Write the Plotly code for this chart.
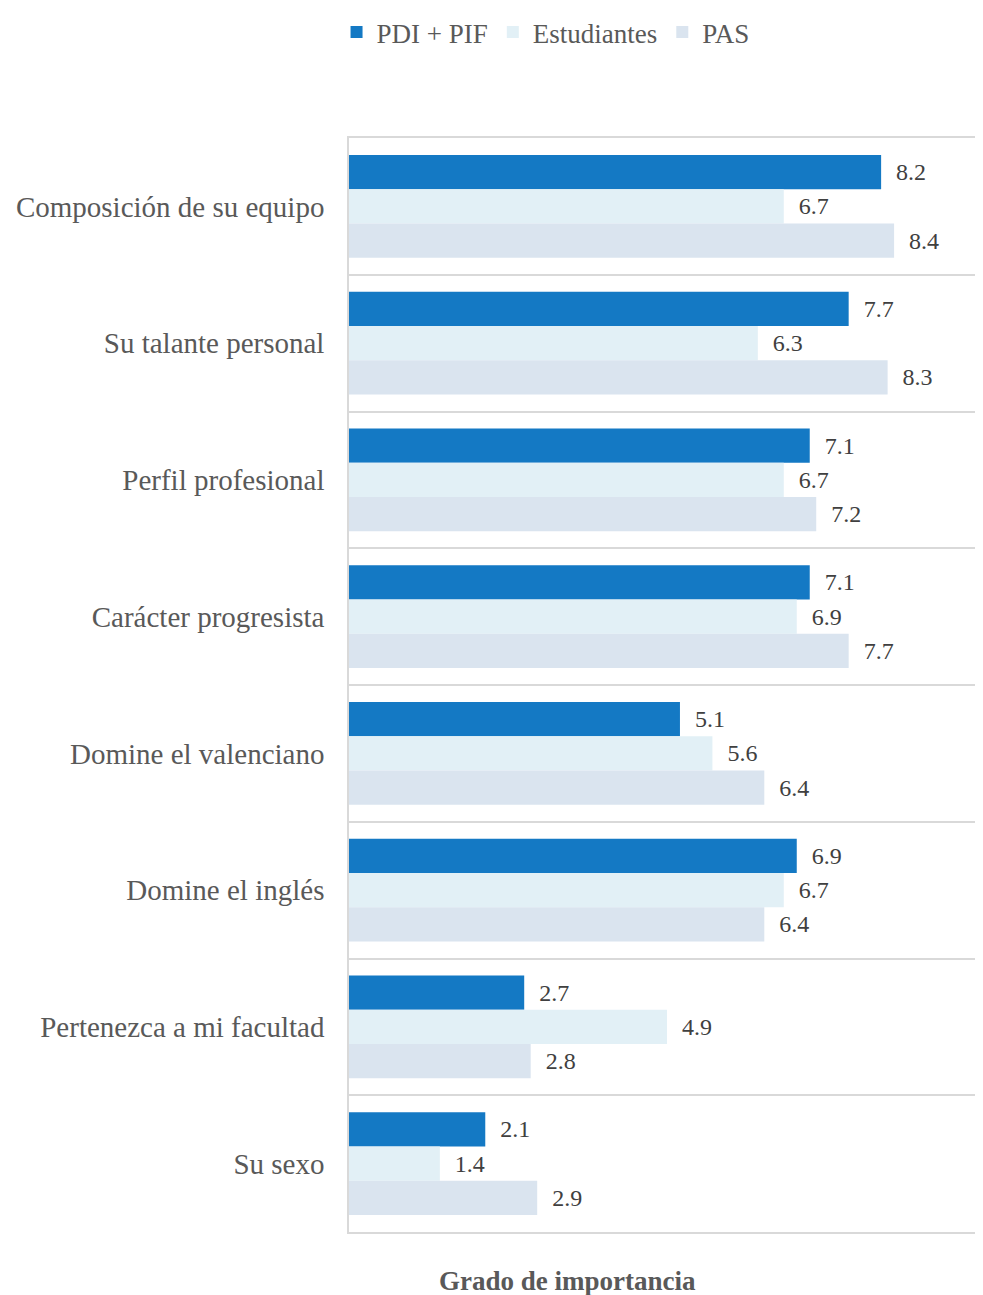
import plotly.graph_objects as go

categories = ["Composición de su equipo", "Su talante personal", "Perfil profesional",
              "Carácter progresista", "Domine el valenciano", "Domine el inglés",
              "Pertenezca a mi facultad", "Su sexo"]
pdi_pif = [8.2, 7.7, 7.1, 7.1, 5.1, 6.9, 2.7, 2.1]
estudiantes = [6.7, 6.3, 6.7, 6.9, 5.6, 6.7, 4.9, 1.4]
pas = [8.4, 8.3, 7.2, 7.7, 6.4, 6.4, 2.8, 2.9]

series = [("PDI + PIF", pdi_pif, "#1479C4"),
          ("Estudiantes", estudiantes, "#E2F0F6"),
          ("PAS", pas, "#DAE4EF")]

FONT = "Liberation Serif"
TXT = "#595959"

fig = go.Figure()
for name, vals, col in series:
    fig.add_trace(go.Bar(
        y=categories, x=vals, name=name, orientation="h",
        marker=dict(color=col, line=dict(width=0)),
        text=[f"{v:.1f}" for v in vals],
        texttemplate="\u00a0\u00a0%{text}",
        textposition="outside", cliponaxis=False,
        textfont=dict(family=FONT, size=24, color="#404040"),
    ))

fig.add_annotation(text="<b>Grado de importancia</b>", xref="paper", yref="paper",
                   x=0.345, y=-0.045, xanchor="center", yanchor="middle", showarrow=False,
                   font=dict(family=FONT, size=27, color=TXT))

fig.update_layout(
    width=975, height=1287,
    barmode="group", bargap=0.25, bargroupgap=0,
    plot_bgcolor="white", paper_bgcolor="white",
    margin=dict(l=341, r=0, t=130, b=63, autoexpand=False),
    font=dict(family=FONT, color=TXT),
    legend=dict(orientation="h", x=0.31, xanchor="center", y=1.0, yref="container",
                yanchor="top", font=dict(family=FONT, size=27, color=TXT),
                itemwidth=30, traceorder="normal"),
    xaxis=dict(range=[0, 9.77], showticklabels=False, showgrid=False, zeroline=False,
               ticks="", showline=True, mirror=True, linecolor="#D9D9D9", linewidth=1.5),
    yaxis=dict(autorange="reversed", tickson="boundaries", showgrid=True,
               gridcolor="#D9D9D9", gridwidth=1.5, ticks="", showline=True,
               linecolor="#D9D9D9", linewidth=1.5, ticklabelstandoff=17,
               tickfont=dict(family=FONT, size=29, color=TXT)),
)

fig.write_html("out.html")
